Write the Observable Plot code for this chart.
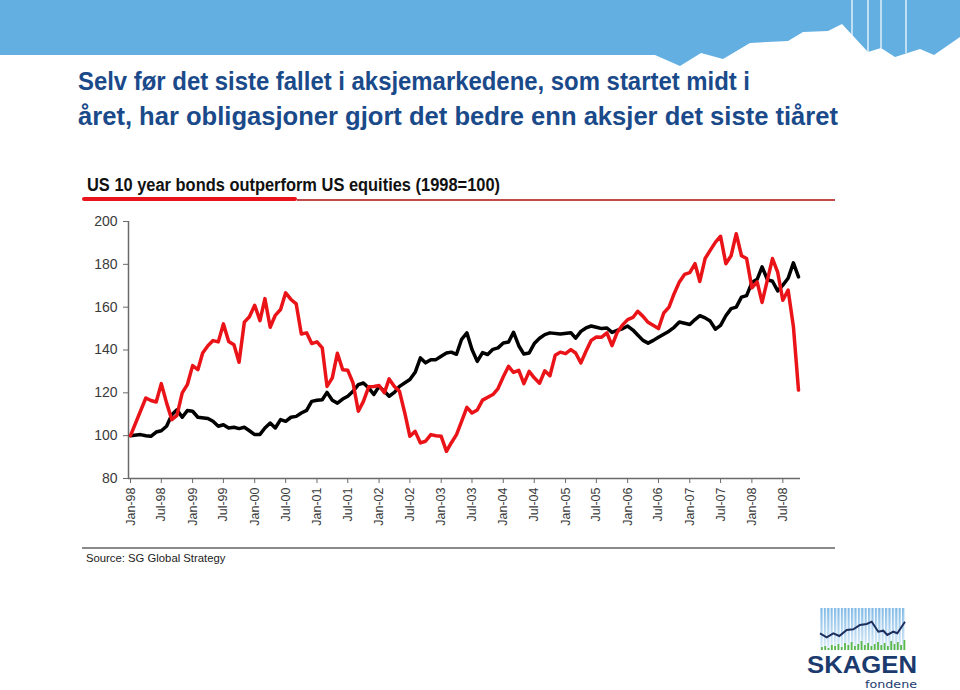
<!DOCTYPE html>
<html><head><meta charset="utf-8">
<script src="https://cdn.jsdelivr.net/npm/d3@7"></script>
<script src="https://cdn.jsdelivr.net/npm/@observablehq/plot@0.6"></script>
<style>
body{margin:0;background:#fff;}
#page{position:relative;width:960px;height:690px;overflow:hidden;font-family:"Liberation Sans",Arial,sans-serif;background:#fff;}
#banner{position:absolute;left:0;top:0;}
#titles{position:absolute;left:0;top:0;}
.redbar{position:absolute;left:82px;top:197px;width:215px;height:4px;background:#e8131b;border-radius:2px;}
.redline{position:absolute;left:297px;top:199px;width:538px;height:1.5px;background:#c44a4a;}
#chart{position:absolute;left:0;top:200px;}
.grayline{position:absolute;left:82px;top:547px;width:753px;height:2px;background:#8a8a8a;}
.source{position:absolute;left:86px;top:552px;font-family:"Liberation Sans",Arial,sans-serif;font-size:11.3px;color:#222;white-space:nowrap;}
#logo{position:absolute;left:800px;top:600px;}
</style></head>
<body><div id="page">
<svg id="banner" width="960" height="70">
  <polygon fill="#63afe2" points="0,0 960,0 960,37 934,55 920,49 895,57 881,48 868,52 842,24 828,31 803,32 788,41 750,43 723,59 701,53 680,66 655,55 0,55"/>
  <g stroke="#fff" stroke-width="1.2">
    <line x1="852" y1="0" x2="852" y2="36"/>
    <line x1="868" y1="0" x2="868" y2="52"/>
    <line x1="881" y1="0" x2="881" y2="48"/>
    <line x1="906" y1="0" x2="906" y2="53"/>
  </g>
</svg>
<svg id="titles" width="960" height="200" font-family="'Liberation Sans', Arial, sans-serif" font-weight="bold">
  <text x="78" y="90" font-size="25" fill="#1a4a8a" textLength="672" lengthAdjust="spacingAndGlyphs">Selv før det siste fallet i aksjemarkedene, som startet midt i</text>
  <text x="78" y="125" font-size="25" fill="#1a4a8a" textLength="760" lengthAdjust="spacingAndGlyphs">året, har obligasjoner gjort det bedre enn aksjer det siste tiåret</text>
  <text x="87" y="191" font-size="18" fill="#111" textLength="413" lengthAdjust="spacingAndGlyphs">US 10 year bonds outperform US equities (1998=100)</text>
</svg>
<div class="redline"></div>
<div class="redbar"></div>
<div id="chart"></div>
<div class="grayline"></div>
<div class="source">Source: SG Global Strategy</div>
<svg id="logo" width="130" height="90">
  <defs>
    <pattern id="stripes" width="3.4" height="10" patternUnits="userSpaceOnUse">
      <rect x="0" y="0" width="2.2" height="10" fill="#7fb9e6"/>
    </pattern>
    <linearGradient id="fade" x1="0" y1="0" x2="0" y2="1">
      <stop offset="0" stop-color="#fff" stop-opacity="0"/>
      <stop offset="1" stop-color="#fff" stop-opacity="0.75"/>
    </linearGradient>
  </defs>
  <rect x="20" y="8" width="85" height="42" fill="url(#stripes)"/>
  <rect x="20" y="8" width="85" height="42" fill="url(#fade)"/>
  <g id="greenbars" fill="#5db84a"></g>
  <polyline fill="none" stroke="#1c2f5e" stroke-width="2" points="20,33.3 26.7,37.3 33.3,33.3 39.3,36 46.7,30 53.3,29.3 60,25 66.7,24 71.7,21.7 78.3,31.7 83.3,30.7 87.3,35 93.3,31.7 97.3,33.3 105,21.7"/>
  <text x="7" y="73" font-family="'Liberation Sans', Arial, sans-serif" font-weight="bold" font-size="23" fill="#1b3a6e" textLength="110" lengthAdjust="spacingAndGlyphs">SKAGEN</text>
  <text x="65" y="87.5" font-family="DejaVu Sans, sans-serif" font-size="10" fill="#1b3a6e" textLength="52" lengthAdjust="spacingAndGlyphs">fondene</text>
</svg>
</div>
<script>
// ---- data (1998 = 100) ----
const equities = [
["1998-01",100],["1998-04",117.6],["1998-05",116.4],["1998-06",115.7],["1998-07",124.3],["1998-08",115.3],["1998-09",107.5],["1998-10",109.5],["1998-11",120],["1998-12",123.8],
["1999-01",132.7],["1999-02",130.8],["1999-03",138.6],["1999-04",142],["1999-05",144.4],["1999-06",143.8],["1999-07",152.2],["1999-08",144],["1999-09",142.5],["1999-10",134.3],["1999-11",153],["1999-12",155.5],
["2000-01",160.9],["2000-02",153.7],["2000-03",164],["2000-04",150.6],["2000-05",156.2],["2000-06",158.9],["2000-07",166.7],["2000-08",163.6],["2000-09",161.5],["2000-10",147.5],["2000-11",148],["2000-12",143],
["2001-01",143.8],["2001-02",141],["2001-03",123],["2001-04",127],["2001-05",138.5],["2001-06",130.8],["2001-07",130.5],["2001-08",124.6],["2001-09",111.4],["2001-10",116],["2001-11",122.8],["2001-12",123],
["2002-01",123.4],["2002-02",120],["2002-03",126.5],["2002-04",123],["2002-05",120.7],["2002-06",110.6],["2002-07",99.7],["2002-08",102],["2002-09",96.6],["2002-10",97.4],["2002-11",100.5],["2002-12",100],
["2003-01",99.7],["2003-02",92.7],["2003-03",96.6],["2003-04",100.5],["2003-05",106.7],["2003-06",113.2],["2003-07",110.6],["2003-08",112],["2003-09",116.6],["2003-11",119.2],["2003-12",122],
["2004-01",127.5],["2004-02",132.4],["2004-03",129.5],["2004-04",130.5],["2004-05",124.3],["2004-06",130],["2004-07",127],["2004-08",124.5],["2004-09",130.3],["2004-10",128],["2004-11",137.5],["2004-12",139],
["2005-01",138.3],["2005-02",140.2],["2005-03",138.6],["2005-04",134],["2005-05",139.4],["2005-06",144.5],["2005-07",146.1],["2005-08",146],["2005-09",148],["2005-10",142],["2005-11",148.3],["2005-12",151.6],
["2006-01",154.2],["2006-02",155.2],["2006-03",158.1],["2006-04",155.7],["2006-05",152.9],["2006-07",150],["2006-08",157.3],["2006-09",160],["2006-10",166.3],["2006-11",171.8],["2006-12",175.3],
["2007-01",176.1],["2007-02",180.3],["2007-03",172],["2007-04",182.7],["2007-05",186.5],["2007-06",190.4],["2007-07",193.1],["2007-08",180.3],["2007-09",184],["2007-10",194.3],["2007-11",184],["2007-12",182.7],
["2008-01",169],["2008-02",171.8],["2008-03",162.2],["2008-05",182.7],["2008-06",176.2],["2008-07",163.2],["2008-08",168],["2008-09",151],["2008-10",121.3]
];
const bonds = [
["1998-01",100],["1998-03",100.5],["1998-04",100],["1998-05",99.7],["1998-06",101.7],["1998-07",102.3],["1998-08",104.4],["1998-09",109.8],["1998-10",112.1],["1998-11",108.6],["1998-12",111.7],
["1999-01",111.4],["1999-02",108.6],["1999-04",108],["1999-05",106.7],["1999-06",104.4],["1999-07",105.1],["1999-08",103.6],["1999-09",103.9],["1999-10",103.3],["1999-11",103.9],["1999-12",102.3],
["2000-01",100.5],["2000-02",100.6],["2000-03",103.6],["2000-04",105.9],["2000-05",103.6],["2000-06",107.5],["2000-07",106.7],["2000-08",108.6],["2000-09",109],["2000-10",110.6],["2000-11",111.8],["2000-12",116],
["2001-01",116.5],["2001-02",116.8],["2001-03",120.2],["2001-04",116.5],["2001-05",115.2],["2001-06",117.1],["2001-07",118.4],["2001-08",120.7],["2001-09",123.8],["2001-10",124.6],["2001-11",122.3],["2001-12",119.2],
["2002-01",123],["2002-02",120.7],["2002-03",118.4],["2002-04",120.2],["2002-05",123],["2002-07",126.2],["2002-08",129.6],["2002-09",136.3],["2002-10",134],["2002-11",135.5],["2002-12",135.5],
["2003-01",137.1],["2003-02",138.6],["2003-03",139],["2003-04",138],["2003-05",145],["2003-06",148],["2003-07",140.2],["2003-08",134.7],["2003-09",138.8],["2003-10",137.9],["2003-11",140.3],["2003-12",141],
["2004-01",143.3],["2004-02",143.7],["2004-03",148.3],["2004-04",142],["2004-05",138.1],["2004-06",138.6],["2004-07",143],["2004-08",145.5],["2004-09",147.2],["2004-10",148],["2004-12",147.5],
["2005-02",148.1],["2005-03",145.5],["2005-04",148.7],["2005-05",150.3],["2005-06",151.2],["2005-07",150.6],["2005-08",150],["2005-09",150.3],["2005-10",148.2],["2005-11",149.2],["2005-12",149.9],
["2006-01",151.2],["2006-02",149.3],["2006-03",147],["2006-04",144.5],["2006-05",143.2],["2006-06",144.5],["2006-07",146],["2006-09",148.8],["2006-10",150.6],["2006-11",153.1],
["2007-01",151.9],["2007-02",154.2],["2007-03",156],["2007-04",155],["2007-05",153.5],["2007-06",149.7],["2007-07",151.5],["2007-08",156],["2007-09",159.3],["2007-10",160],["2007-11",164.7],["2007-12",165.4],
["2008-01",171.5],["2008-02",173],["2008-03",178.8],["2008-04",172.9],["2008-05",172.1],["2008-06",167.6],["2008-07",170.3],["2008-08",173.5],["2008-09",180.7],["2008-10",174.1]
];
const xTickMonths = ["1998-01","1998-07","1999-01","1999-07","2000-01","2000-07","2001-01","2001-07","2002-01","2002-07","2003-01","2003-07","2004-01","2004-07","2005-01","2005-07","2006-01","2006-07","2007-01","2007-07","2008-01","2008-07"];
const xTickLabels = ["Jan-98","Jul-98","Jan-99","Jul-99","Jan-00","Jul-00","Jan-01","Jul-01","Jan-02","Jul-02","Jan-03","Jul-03","Jan-04","Jul-04","Jan-05","Jul-05","Jan-06","Jul-06","Jan-07","Jul-07","Jan-08","Jul-08"];
const yTicks = [80,100,120,140,160,180,200];
const greenBarHeights = [3,4,2,5,4,6,3,7,5,8,4,6,9,5,7,4,6,8,5,7,4,9,6,8,5,10];

// ---- build ----
const parse = d3.utcParse("%Y-%m");
const eqRows = equities.map(([m, v]) => ({date: parse(m), value: v}));
const bondRows = bonds.map(([m, v]) => ({date: parse(m), value: v}));
const tickDates = xTickMonths.map(parse);
const labelByTime = new Map(tickDates.map((d, i) => [+d, xTickLabels[i]]));

const chart = Plot.plot({
  width: 960, height: 350,
  marginLeft: 130, marginRight: 162, marginTop: 21, marginBottom: 72,
  style: {fontFamily: "'Liberation Sans', Arial, sans-serif", fontSize: "13.5px", color: "#3a3a3a", background: "transparent"},
  x: {type: "utc", domain: [parse("1998-01"), parse("2008-10")]},
  y: {domain: [80, 200]},
  marks: [
    Plot.ruleY([80], {stroke: "#6a6a6a", strokeWidth: 1.5, insetLeft: -2, insetRight: -2}),
    Plot.ruleX([parse("1998-01")], {y1: 80, y2: 200, stroke: "#6a6a6a", strokeWidth: 1.5, dx: -2}),
    Plot.axisY({ticks: yTicks, tickSize: 5, tickPadding: 6, dx: -2, stroke: "#6a6a6a", fill: "#3a3a3a", label: null, fontSize: 14}),
    Plot.axisX({ticks: tickDates, tickFormat: d => labelByTime.get(+d), tickRotate: -90, tickSize: 5, tickPadding: 4, stroke: "#6a6a6a", fill: "#3a3a3a", fontSize: 12.5, label: null}),
    Plot.line(bondRows, {x: "date", y: "value", stroke: "#000", strokeWidth: 3.5, strokeLinejoin: "round"}),
    Plot.line(eqRows, {x: "date", y: "value", stroke: "#ea1318", strokeWidth: 3.5, strokeLinejoin: "round"})
  ]
});
document.getElementById("chart").appendChild(chart);

const gb = document.getElementById("greenbars");
greenBarHeights.forEach((h, i) => {
  const r = document.createElementNS("http://www.w3.org/2000/svg", "rect");
  r.setAttribute("x", 21 + i * 3.3); r.setAttribute("y", 50 - h);
  r.setAttribute("width", 1.8); r.setAttribute("height", h);
  gb.appendChild(r);
});
</script>
</body></html>
